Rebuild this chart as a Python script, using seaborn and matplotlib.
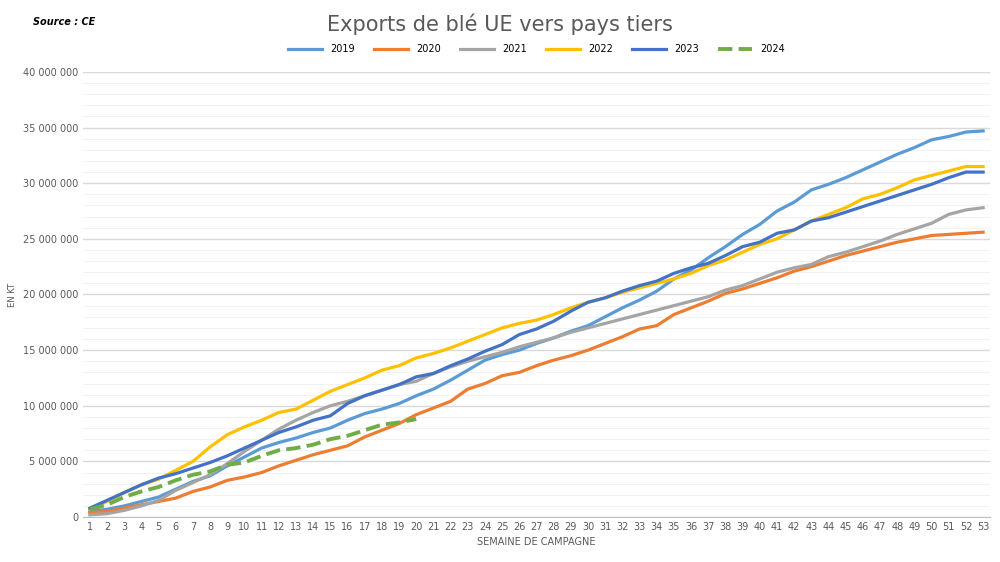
import matplotlib
matplotlib.use("Agg")
import matplotlib.pyplot as plt
import seaborn as sns
import pandas as pd
from matplotlib.ticker import FuncFormatter, MultipleLocator

weeks = list(range(1, 54))
s2019 = [0.5,0.7,1.0,1.4,1.8,2.5,3.2,3.7,4.6,5.4,6.2,6.7,7.1,7.6,8.0,8.7,9.3,9.7,10.2,10.9,11.5,12.3,13.2,14.1,14.6,15.0,15.6,16.1,16.7,17.2,18.0,18.8,19.5,20.3,21.4,22.2,23.3,24.3,25.4,26.3,27.5,28.3,29.4,29.9,30.5,31.2,31.9,32.6,33.2,33.9,34.2,34.6,34.7]
s2020 = [0.4,0.5,0.8,1.1,1.4,1.7,2.3,2.7,3.3,3.6,4.0,4.6,5.1,5.6,6.0,6.4,7.2,7.8,8.4,9.2,9.8,10.4,11.5,12.0,12.7,13.0,13.6,14.1,14.5,15.0,15.6,16.2,16.9,17.2,18.2,18.8,19.4,20.1,20.5,21.0,21.5,22.1,22.5,23.0,23.5,23.9,24.3,24.7,25.0,25.3,25.4,25.5,25.6]
s2021 = [0.2,0.3,0.6,1.0,1.5,2.4,3.1,3.8,4.8,5.9,6.9,7.9,8.7,9.4,10.0,10.4,10.9,11.4,11.9,12.2,12.9,13.5,14.0,14.4,14.8,15.3,15.7,16.1,16.6,17.0,17.4,17.8,18.2,18.6,19.0,19.4,19.8,20.4,20.8,21.4,22.0,22.4,22.7,23.4,23.8,24.3,24.8,25.4,25.9,26.4,27.2,27.6,27.8]
s2022 = [0.7,1.4,2.2,2.9,3.4,4.2,5.0,6.3,7.4,8.1,8.7,9.4,9.7,10.5,11.3,11.9,12.5,13.2,13.6,14.3,14.7,15.2,15.8,16.4,17.0,17.4,17.7,18.2,18.8,19.3,19.7,20.2,20.6,21.0,21.4,21.9,22.6,23.1,23.8,24.5,25.0,25.8,26.6,27.2,27.8,28.6,29.0,29.6,30.3,30.7,31.1,31.5,31.5]
s2023 = [0.8,1.5,2.2,2.9,3.5,3.9,4.4,4.9,5.5,6.2,6.9,7.6,8.1,8.7,9.1,10.2,10.9,11.4,11.9,12.6,12.9,13.6,14.2,14.9,15.5,16.4,16.9,17.6,18.5,19.3,19.7,20.3,20.8,21.2,21.9,22.4,22.8,23.5,24.3,24.7,25.5,25.8,26.6,26.9,27.4,27.9,28.4,28.9,29.4,29.9,30.5,31.0,31.0]
s2024 = [0.7,1.1,1.8,2.3,2.7,3.3,3.8,4.1,4.7,4.9,5.5,6.0,6.2,6.5,7.0,7.3,7.8,8.3,8.5,8.8]

series = {"2019": s2019, "2020": s2020, "2021": s2021, "2022": s2022, "2023": s2023, "2024": s2024}
colors = {"2019": "#5B9BD5", "2020": "#ED7D31", "2021": "#A5A5A5", "2022": "#FFC000", "2023": "#4472C4", "2024": "#70AD47"}

rows = []
for k, v in series.items():
    for w, val in zip(weeks, v):
        rows.append({"week": w, "value": val * 1e6, "year": k})
df = pd.DataFrame(rows)

fig = plt.figure(figsize=(10, 5.62), dpi=100)
ax = fig.add_axes([0.083, 0.08, 0.907, 0.792])
for k in series:
    d = df[df.year == k]
    sns.lineplot(data=d, x="week", y="value", ax=ax, color=colors[k], lw=2.3 if k != "2024" else 2.8,
                 linestyle="--" if k == "2024" else "-", label=k)

ax.set_xlim(0.6, 53.4)
ax.set_ylim(0, 40e6)
ax.set_xticks(weeks)
ax.yaxis.set_major_locator(MultipleLocator(5e6))
ax.yaxis.set_minor_locator(MultipleLocator(1e6))
ax.yaxis.set_major_formatter(FuncFormatter(lambda v, p: f"{int(v):,}".replace(",", " ")))
ax.grid(which="major", axis="y", color="#d9d9d9", lw=1)
ax.grid(which="minor", axis="y", color="#f2f2f2", lw=0.8)
ax.tick_params(axis="both", which="both", length=0, labelsize=7, colors="#595959")
for s in ["top", "right", "left"]:
    ax.spines[s].set_visible(False)
ax.spines["bottom"].set_color("#bfbfbf")
ax.set_xlabel("SEMAINE DE CAMPAGNE", fontsize=7, color="#595959")
ax.set_ylabel("EN KT", fontsize=6, color="#595959")
ax.legend(loc="lower center", bbox_to_anchor=(0.5, 1.02), ncol=6, frameon=False, fontsize=7,
          handlelength=3.5, columnspacing=2)
fig.text(0.5, 0.945, "Exports de blé UE vers pays tiers", ha="center", fontsize=15, color="#595959")
fig.text(0.033, 0.955, "Source : CE", fontsize=7, style="italic", weight="bold")
fig.savefig("out.png", dpi=100)
